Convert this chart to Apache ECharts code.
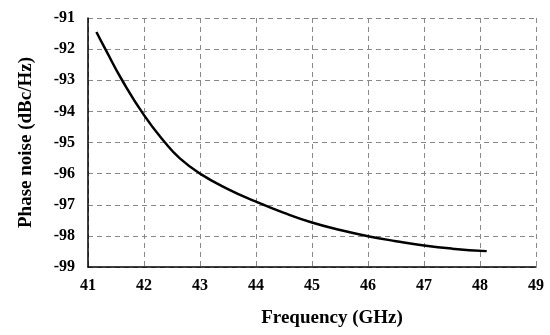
<!DOCTYPE html>
<html>
<head>
<meta charset="utf-8">
<script src="https://cdn.jsdelivr.net/npm/echarts@6/dist/echarts.min.js"></script>
<style>html,body{margin:0;padding:0;background:#fff}#c{width:550px;height:335px}</style>
</head>
<body>
<div id="c"></div>
<script>
var freqGHz = [41.15, 41.31, 41.61, 42.0, 42.375, 42.64, 43.0, 43.48, 44.0, 44.5, 45.0, 45.5, 46.0, 46.5, 47.0, 47.5, 48.12];
var phaseNoise = [-91.45, -92.0, -93.0, -94.12, -95.0, -95.51, -96.0, -96.48, -96.9, -97.26, -97.57, -97.81, -98.01, -98.17, -98.31, -98.41, -98.49];
var xTicks = [41, 42, 43, 44, 45, 46, 47, 48, 49];
var yTicks = [-99, -98, -97, -96, -95, -94, -93, -92, -91];

var font = '"Liberation Serif", "Times New Roman", serif';
var pts = freqGHz.map(function (f, i) { return [f, phaseNoise[i]]; });
var chart = echarts.init(document.getElementById('c'), null, {renderer: 'canvas'});
chart.setOption({
  animation: false,
  grid: {left: 88, right: 14, top: 18, bottom: 68},
  xAxis: {
    type: 'value', min: xTicks[0], max: xTicks[xTicks.length - 1], interval: 1,
    name: 'Frequency (GHz)', nameLocation: 'middle', nameGap: 42,
    nameTextStyle: {fontFamily: font, fontWeight: 'bold', fontSize: 19, color: '#000', padding: [0, 0, 0, 40]},
    axisLine: {show: true, lineStyle: {color: '#000', width: 1.5}},
    axisTick: {show: false},
    axisLabel: {fontFamily: font, fontWeight: 'bold', fontSize: 16, color: '#000', margin: 11},
    splitLine: {show: true, lineStyle: {color: '#888', type: [5, 4], width: 1}}
  },
  yAxis: {
    type: 'value', min: yTicks[0], max: yTicks[yTicks.length - 1], interval: 1,
    name: 'Phase noise (dBc/Hz)', nameLocation: 'middle', nameGap: 52, nameRotate: 90,
    nameTextStyle: {fontFamily: font, fontWeight: 'bold', fontSize: 19, color: '#000'},
    axisLine: {show: true, lineStyle: {color: '#000', width: 1.5}},
    axisTick: {show: false},
    axisLabel: {fontFamily: font, fontWeight: 'bold', fontSize: 16, color: '#000', margin: 13},
    splitLine: {show: true, lineStyle: {color: '#888', type: [5, 4], width: 1}}
  },
  series: [{
    type: 'line', data: pts, smooth: 0.5, symbol: 'none',
    lineStyle: {color: '#000', width: 2.5}
  }]
});
</script>
</body>
</html>
